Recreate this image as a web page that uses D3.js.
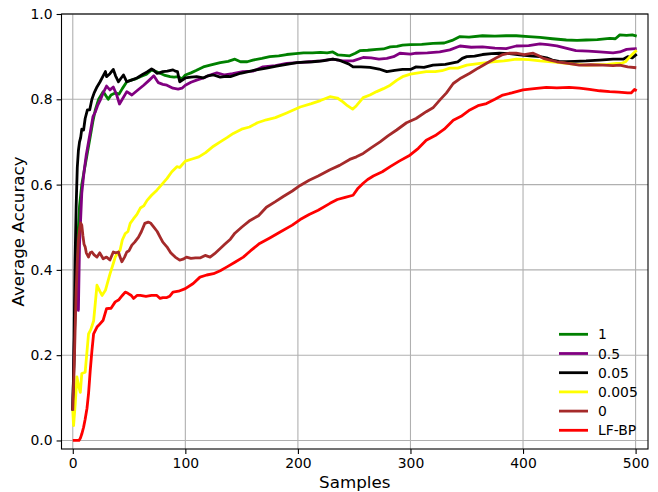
<!DOCTYPE html>
<html><head><meta charset="utf-8">
<script src="https://cdn.jsdelivr.net/npm/d3@7"></script>
<style>body{margin:0;background:#fff;} text{font-family:"DejaVu Sans",sans-serif;}</style>
</head><body>
<svg id="chart" width="658" height="492"></svg>
<script>
const seriesNames = ["1","0.5","0.05","0.005","0","LF-BP"];
const seriesColors = ["#008000","#800080","#000000","#ffff00","#a52a2a","#ff0000"];

const xTicks = [0,100,200,300,400,500];
const yTicks = [0.0,0.2,0.4,0.6,0.8,1.0];

const greenX = [0,2,4,6,8,10,12,14,16,18,20,23,27,29,31.5,34,37.7,41,44,48,52,56,60,65,70,74,77.6,82,86.5,90,93.6,97,100,105,110,116,122,131,138,144,149,155,160,168,175,183,190,198,205,213,220,226,231,235.6,241,246,251,255,262,270,276,282,288,293,300,310,320,330,337,344,352,364,375,385,394,405,415,426,438.5,448,456,466,477,482,486,492,497,501];
const greenY = [0.07,0.3,0.45,0.55,0.60,0.63,0.66,0.69,0.72,0.75,0.775,0.80,0.818,0.81,0.80,0.81,0.815,0.812,0.825,0.841,0.845,0.848,0.853,0.858,0.869,0.865,0.861,0.856,0.853,0.852,0.853,0.848,0.857,0.862,0.868,0.876,0.88,0.886,0.889,0.894,0.888,0.888,0.892,0.896,0.90,0.902,0.905,0.907,0.909,0.909,0.91,0.909,0.911,0.904,0.903,0.902,0.908,0.914,0.915,0.917,0.918,0.923,0.924,0.927,0.928,0.929,0.931,0.932,0.938,0.947,0.946,0.949,0.948,0.949,0.949,0.947,0.945,0.942,0.939,0.938,0.939,0.940,0.943,0.942,0.951,0.950,0.951,0.948];

const purpleX = [0,2,3,4,5,6,7,8,10,12,14,16,18,20,22,24.4,27,30,33,36,39,41.5,44,48,52.5,57,63,68,72,76,80,83.6,89,93.6,97,100,105,110,116,122,128,135,142,151,160,169,180,190,200,211,220,231,240,249,258,265,272,279,285,290.6,300,305,315,326,335,344,354,364,375,385,394,405,415,422,430,438,447,458,468,480,486,492,497,501];
const purpleY = [0.07,0.31,0.42,0.36,0.305,0.46,0.52,0.58,0.63,0.67,0.70,0.73,0.76,0.77,0.785,0.798,0.815,0.831,0.822,0.829,0.81,0.789,0.80,0.818,0.81,0.82,0.833,0.845,0.855,0.839,0.835,0.833,0.826,0.824,0.826,0.833,0.84,0.845,0.85,0.857,0.862,0.857,0.86,0.865,0.866,0.876,0.879,0.884,0.886,0.888,0.89,0.894,0.89,0.89,0.898,0.897,0.894,0.896,0.90,0.908,0.906,0.908,0.909,0.911,0.916,0.925,0.922,0.923,0.92,0.919,0.925,0.926,0.93,0.928,0.925,0.92,0.914,0.913,0.911,0.909,0.911,0.917,0.918,0.919];

const blackX = [0,1,2,3,4,5,6,7,8,9.6,11,13,15,17,19,21.5,24,27,29,30,33,36,38,40.6,43,45,48,52,57,62,66,70,72,74.7,77,80,84,89,91,93,95,100,105,110,116,120,125,131,136,140,149,156,163,172,181,190,199,206,213,222,231,236,240,245,249,256,264,272,279,286,293,300,305,312,320,331,342,346,350,357,364,372,379,388,397,406,415,421,426,432,438.5,446,456,468,480,489,493,495,497,501];
const blackY = [0.07,0.2,0.42,0.55,0.64,0.68,0.70,0.71,0.73,0.728,0.755,0.775,0.775,0.80,0.815,0.829,0.84,0.855,0.865,0.853,0.86,0.87,0.855,0.841,0.85,0.857,0.841,0.845,0.85,0.858,0.864,0.871,0.868,0.861,0.862,0.865,0.866,0.869,0.866,0.865,0.841,0.85,0.852,0.853,0.85,0.855,0.857,0.852,0.854,0.853,0.861,0.865,0.869,0.873,0.878,0.882,0.886,0.887,0.888,0.890,0.894,0.892,0.888,0.883,0.876,0.876,0.875,0.871,0.865,0.868,0.87,0.87,0.876,0.875,0.88,0.882,0.888,0.896,0.90,0.901,0.905,0.907,0.908,0.907,0.904,0.902,0.90,0.897,0.892,0.889,0.888,0.889,0.89,0.892,0.894,0.894,0.90,0.899,0.897,0.906];

const yellowX = [0,0.7,2.2,3.7,5,6.7,8,11,14,16,18.5,21.5,24,26,29,33,36,37.7,40,42,44,46.6,49,51,54,57,60,63,66,70,74.7,79,83.6,88,92.5,95,100,106,112,118,125,131,137,142.6,150,157,164,172,180,190,202,212,220,228.5,235,240,244,248.6,252,258,264,270,276,282,288,293,300,307,314,322,328,335,342,350,362,373,383,394,405,415,428,438.5,447,456,466,475,483,487,491,495,498,501];
const yellowY = [0.07,0.035,0.087,0.149,0.13,0.113,0.157,0.16,0.25,0.26,0.28,0.364,0.35,0.34,0.352,0.39,0.415,0.43,0.44,0.446,0.47,0.485,0.49,0.509,0.52,0.53,0.545,0.55,0.563,0.575,0.587,0.60,0.614,0.63,0.642,0.64,0.655,0.66,0.665,0.675,0.69,0.70,0.71,0.72,0.73,0.735,0.745,0.752,0.757,0.768,0.782,0.79,0.797,0.806,0.803,0.794,0.785,0.777,0.785,0.804,0.81,0.818,0.825,0.833,0.845,0.853,0.859,0.862,0.865,0.865,0.867,0.873,0.873,0.88,0.884,0.888,0.89,0.894,0.893,0.89,0.887,0.884,0.882,0.88,0.881,0.882,0.884,0.884,0.888,0.90,0.908,0.915,0.919];

const brownX = [0,1,2,3,4,5,6,7,8,9,10,11,12,14,15.5,17,19,21.5,24,27,30,33,36,38,40.6,42,43.6,46,48,50,52.5,55,58.4,61,64,67,69,72,75,77.6,80,83.6,87,91,95,98,101,105,109,113,117.6,122,126,131,135,140,144,150,157.5,165,172,180,187,195,202,210,218,228.5,237,246,252,258,265,273,280,287.7,296.5,305,314,320,326,332,338,345,352.7,360,370,376,382,388,394,401,409,414,418,424,430,440,450,460,471,480,486,493,500.6];
const brownY = [0.07,0.15,0.25,0.35,0.42,0.47,0.495,0.51,0.505,0.48,0.46,0.454,0.44,0.43,0.44,0.442,0.435,0.43,0.44,0.426,0.43,0.423,0.442,0.44,0.442,0.43,0.419,0.43,0.442,0.445,0.458,0.465,0.477,0.49,0.509,0.512,0.51,0.50,0.49,0.477,0.465,0.454,0.44,0.43,0.423,0.425,0.43,0.427,0.428,0.428,0.434,0.43,0.438,0.45,0.46,0.472,0.486,0.50,0.516,0.527,0.547,0.56,0.572,0.585,0.598,0.61,0.62,0.635,0.645,0.659,0.665,0.673,0.686,0.70,0.714,0.728,0.745,0.755,0.771,0.78,0.798,0.815,0.837,0.85,0.861,0.873,0.888,0.897,0.905,0.908,0.908,0.905,0.908,0.902,0.896,0.892,0.888,0.884,0.88,0.881,0.88,0.879,0.88,0.876,0.874];

const redX = [0,3,5.5,6.7,8,9.6,11,12.6,14,15.5,17,18.5,21.5,23,27,30,34,37.7,41,44,46.6,49,52,54,57,60,65,70,74.7,77.6,80,83.6,86,89,94,100,107,113,119,125,131,137,144,151.5,158,166,175,185,195,202,210,218,228.5,235,242,249,253,258,262,267,275,282,290,299.5,307,314,322,330,338,345,352.7,360,367.5,375,382,390,400,410,420.7,430,441,450,459,468,477,485,493,496,499,501];
const redY = [0,0,0,0.005,0.015,0.031,0.05,0.075,0.11,0.164,0.21,0.25,0.266,0.27,0.282,0.309,0.31,0.325,0.33,0.34,0.348,0.345,0.34,0.333,0.34,0.34,0.338,0.34,0.34,0.333,0.335,0.335,0.338,0.348,0.35,0.356,0.368,0.383,0.388,0.391,0.398,0.407,0.418,0.43,0.445,0.462,0.475,0.49,0.505,0.518,0.53,0.54,0.556,0.565,0.57,0.575,0.59,0.603,0.612,0.62,0.63,0.642,0.655,0.669,0.685,0.704,0.715,0.73,0.751,0.76,0.775,0.785,0.79,0.80,0.81,0.815,0.822,0.825,0.828,0.827,0.828,0.826,0.823,0.82,0.818,0.817,0.815,0.815,0.823,0.82];

const seriesX = [greenX, purpleX, blackX, yellowX, brownX, redX];
const seriesY = [greenY, purpleY, blackY, yellowY, brownY, redY];

const W = 658, H = 492;
const m = {left: 61.5, right: 648, top: 14, bottom: 449};
const svg = d3.select("#chart");
const x = d3.scaleLinear().domain([-10.02, 511.02]).range([m.left, m.right]);
const y = d3.scaleLinear().domain([-0.02, 1.0]).range([m.bottom, m.top]);

// grid
const grid = svg.append("g");
grid.selectAll("line.gx").data(xTicks).enter().append("line")
  .attr("x1", d => x(d)).attr("x2", d => x(d)).attr("y1", m.top).attr("y2", m.bottom)
  .attr("stroke", "#b0b0b0").attr("stroke-width", 1.1);
grid.selectAll("line.gy").data(yTicks).enter().append("line")
  .attr("y1", d => y(d)).attr("y2", d => y(d)).attr("x1", m.left).attr("x2", m.right)
  .attr("stroke", "#b0b0b0").attr("stroke-width", 1.1);

// lines
const clip = svg.append("clipPath").attr("id", "clip").append("rect")
  .attr("x", m.left).attr("y", m.top).attr("width", m.right - m.left).attr("height", m.bottom - m.top);
const line = d3.line().x(d => x(d[0])).y(d => y(d[1]));
seriesNames.forEach((name, i) => {
  const pts = seriesX[i].map((v, j) => [v, seriesY[i][j]]);
  svg.append("path").datum(pts).attr("d", line)
    .attr("fill", "none").attr("stroke", seriesColors[i]).attr("stroke-width", 2.8)
    .attr("stroke-linejoin", "round").attr("clip-path", "url(#clip)");
});

// axes
const xAxis = d3.axisBottom(x).tickValues(xTicks).tickSize(4.9).tickPadding(4).tickFormat(d3.format("d"));
const yAxis = d3.axisLeft(y).tickValues(yTicks).tickSize(4.9).tickPadding(4).tickFormat(d3.format(".1f"));
const gx = svg.append("g").attr("transform", `translate(0,${m.bottom})`).call(xAxis);
const gy = svg.append("g").attr("transform", `translate(${m.left},0)`).call(yAxis);
[gx, gy].forEach(g => {
  g.select(".domain").remove();
  g.selectAll(".tick line").attr("stroke", "#000").attr("stroke-width", 1.1);
  g.selectAll(".tick text").attr("fill", "#000").style("font-size", "13.9px").style("font-family", "DejaVu Sans");
});

// frame
svg.append("rect").attr("x", m.left).attr("y", m.top).attr("width", m.right - m.left).attr("height", m.bottom - m.top)
  .attr("fill", "none").attr("stroke", "#000").attr("stroke-width", 1.1);

// axis labels
svg.append("text").attr("x", (m.left + m.right) / 2).attr("y", 488).attr("text-anchor", "middle")
  .style("font-size", "16.7px").text("Samples");
svg.append("text").attr("transform", `translate(24,${(m.top + m.bottom) / 2}) rotate(-90)`).attr("text-anchor", "middle")
  .style("font-size", "16.7px").text("Average Accuracy");

// legend
const leg = svg.append("g");
seriesNames.forEach((name, i) => {
  const ly = 334.3 + i * 19.2;
  leg.append("line").attr("x1", 559).attr("x2", 588).attr("y1", ly).attr("y2", ly)
    .attr("stroke", seriesColors[i]).attr("stroke-width", 2.8);
  leg.append("text").attr("x", 598).attr("y", ly).attr("dy", "0.36em")
    .style("font-size", "13.9px").text(name);
});
</script>
</body></html>
